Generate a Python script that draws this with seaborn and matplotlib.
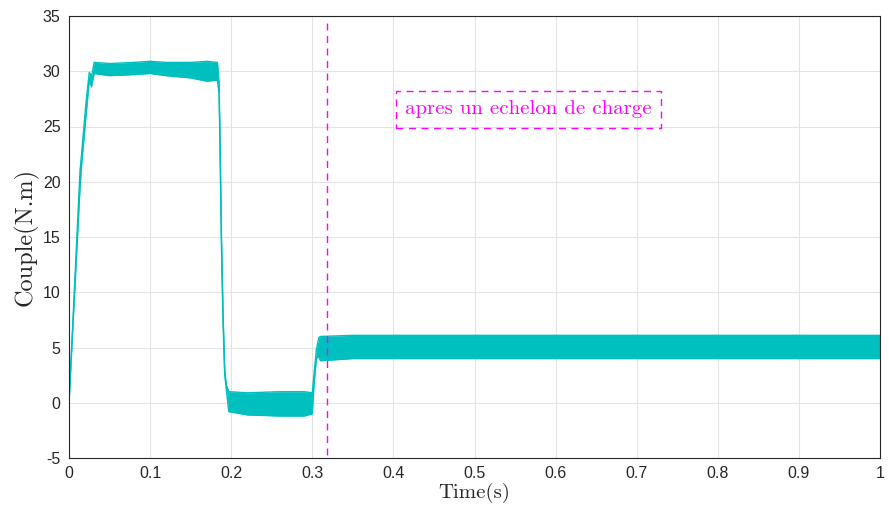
import numpy as np
import pandas as pd
import matplotlib
matplotlib.use("Agg")
import matplotlib.pyplot as plt
import seaborn as sns

# ---- data (envelope of the noisy torque signal) ----
time_s = [0.0, 0.0136, 0.0155, 0.021, 0.025, 0.0277, 0.031, 0.05, 0.08, 0.10,
          0.12, 0.15, 0.17, 0.183, 0.185, 0.186, 0.188, 0.190, 0.192, 0.194,
          0.197, 0.22, 0.26, 0.29, 0.300, 0.302, 0.305, 0.308, 0.31, 0.35,
          0.45, 0.55, 0.65, 0.75, 0.85, 0.95, 1.0]
torque_upper = [0.0, 21.0, 22.5, 27.2, 29.9, 29.5, 30.8, 30.7, 30.8, 30.9,
                30.8, 30.8, 30.9, 30.8, 29.0, 25.0, 15.0, 8.0, 3.0, 1.6,
                1.0, 0.9, 1.0, 1.0, 0.9, 2.5, 4.8, 5.9, 6.0, 6.1,
                6.1, 6.1, 6.1, 6.1, 6.1, 6.1, 6.1]
torque_lower = [0.0, 19.5, 21.5, 26.0, 29.2, 28.6, 29.8, 29.6, 29.7, 29.8,
                29.6, 29.4, 29.1, 29.2, 28.0, 24.0, 14.0, 7.0, 2.5, 1.2,
                -0.8, -1.1, -1.2, -1.2, -1.0, 1.5, 4.0, 4.2, 3.8, 4.0,
                4.0, 4.0, 4.0, 4.0, 4.0, 4.0, 4.0]

step_time = 0.318
step_line_y = [-4.7, 34.8]

annotation_text = "apres un echelon de charge"
x_label = "Time(s)"
y_label = "Couple(N.m)"
x_ticks = [0, 0.1, 0.2, 0.3, 0.4, 0.5, 0.6, 0.7, 0.8, 0.9, 1]
x_tick_labels = ["0", "0.1", "0.2", "0.3", "0.4", "0.5", "0.6", "0.7", "0.8", "0.9", "1"]
y_ticks = [-5, 0, 5, 10, 15, 20, 25, 30, 35]
y_tick_labels = ["-5", "0", "5", "10", "15", "20", "25", "30", "35"]

sns.set_theme(style="whitegrid")
plt.rcParams["font.family"] = ["Liberation Sans", "DejaVu Sans"]
plt.rcParams["axes.unicode_minus"] = False

sig_color = "#00BFBF"
mag = "#FF00FF"
axis_col = "#262626"
serif = ["cmr10", "DejaVu Serif"]

df = pd.DataFrame({"t": time_s, "upper": torque_upper, "lower": torque_lower})

fig = plt.figure(figsize=(8.89, 5.13), dpi=100)
ax = fig.add_axes([69 / 889, 55 / 513, 811 / 889, 442 / 513])
ax.set_facecolor("white")

ax.fill_between(df["t"], df["lower"], df["upper"], color=sig_color, linewidth=0)
sns.lineplot(data=df, x="t", y="upper", ax=ax, color=sig_color, lw=1.0)
sns.lineplot(data=df, x="t", y="lower", ax=ax, color=sig_color, lw=1.0)

ax.plot([step_time, step_time], step_line_y, color=mag, lw=1.0,
        linestyle=(0, (5, 4)))

ax.text(0.5665, 26.55, annotation_text, family=serif,
        color=mag, fontsize=15, ha="center", va="center",
        bbox=dict(boxstyle="square,pad=0.45", fc="none", ec=mag, lw=1.0,
                  ls=(0, (5, 4))))

ax.set_xlim(0, 1)
ax.set_ylim(-5, 35)
ax.set_xticks(x_ticks)
ax.set_xticklabels(x_tick_labels)
ax.set_yticks(y_ticks)
ax.set_yticklabels(y_tick_labels)
ax.tick_params(axis="both", direction="in", length=4, width=0.8,
               colors=axis_col, labelsize=11.5, pad=6)
ax.grid(True, color="#e3e3e3", lw=0.8)
for s in ax.spines.values():
    s.set_visible(True)
    s.set_color(axis_col)
    s.set_linewidth(0.8)

ax.set_xlabel(x_label, family=serif, fontsize=15, color=axis_col, labelpad=1)
ax.set_ylabel(y_label, family=serif, fontsize=17.5, color=axis_col, labelpad=3)

fig.savefig("out.png", dpi=100)
